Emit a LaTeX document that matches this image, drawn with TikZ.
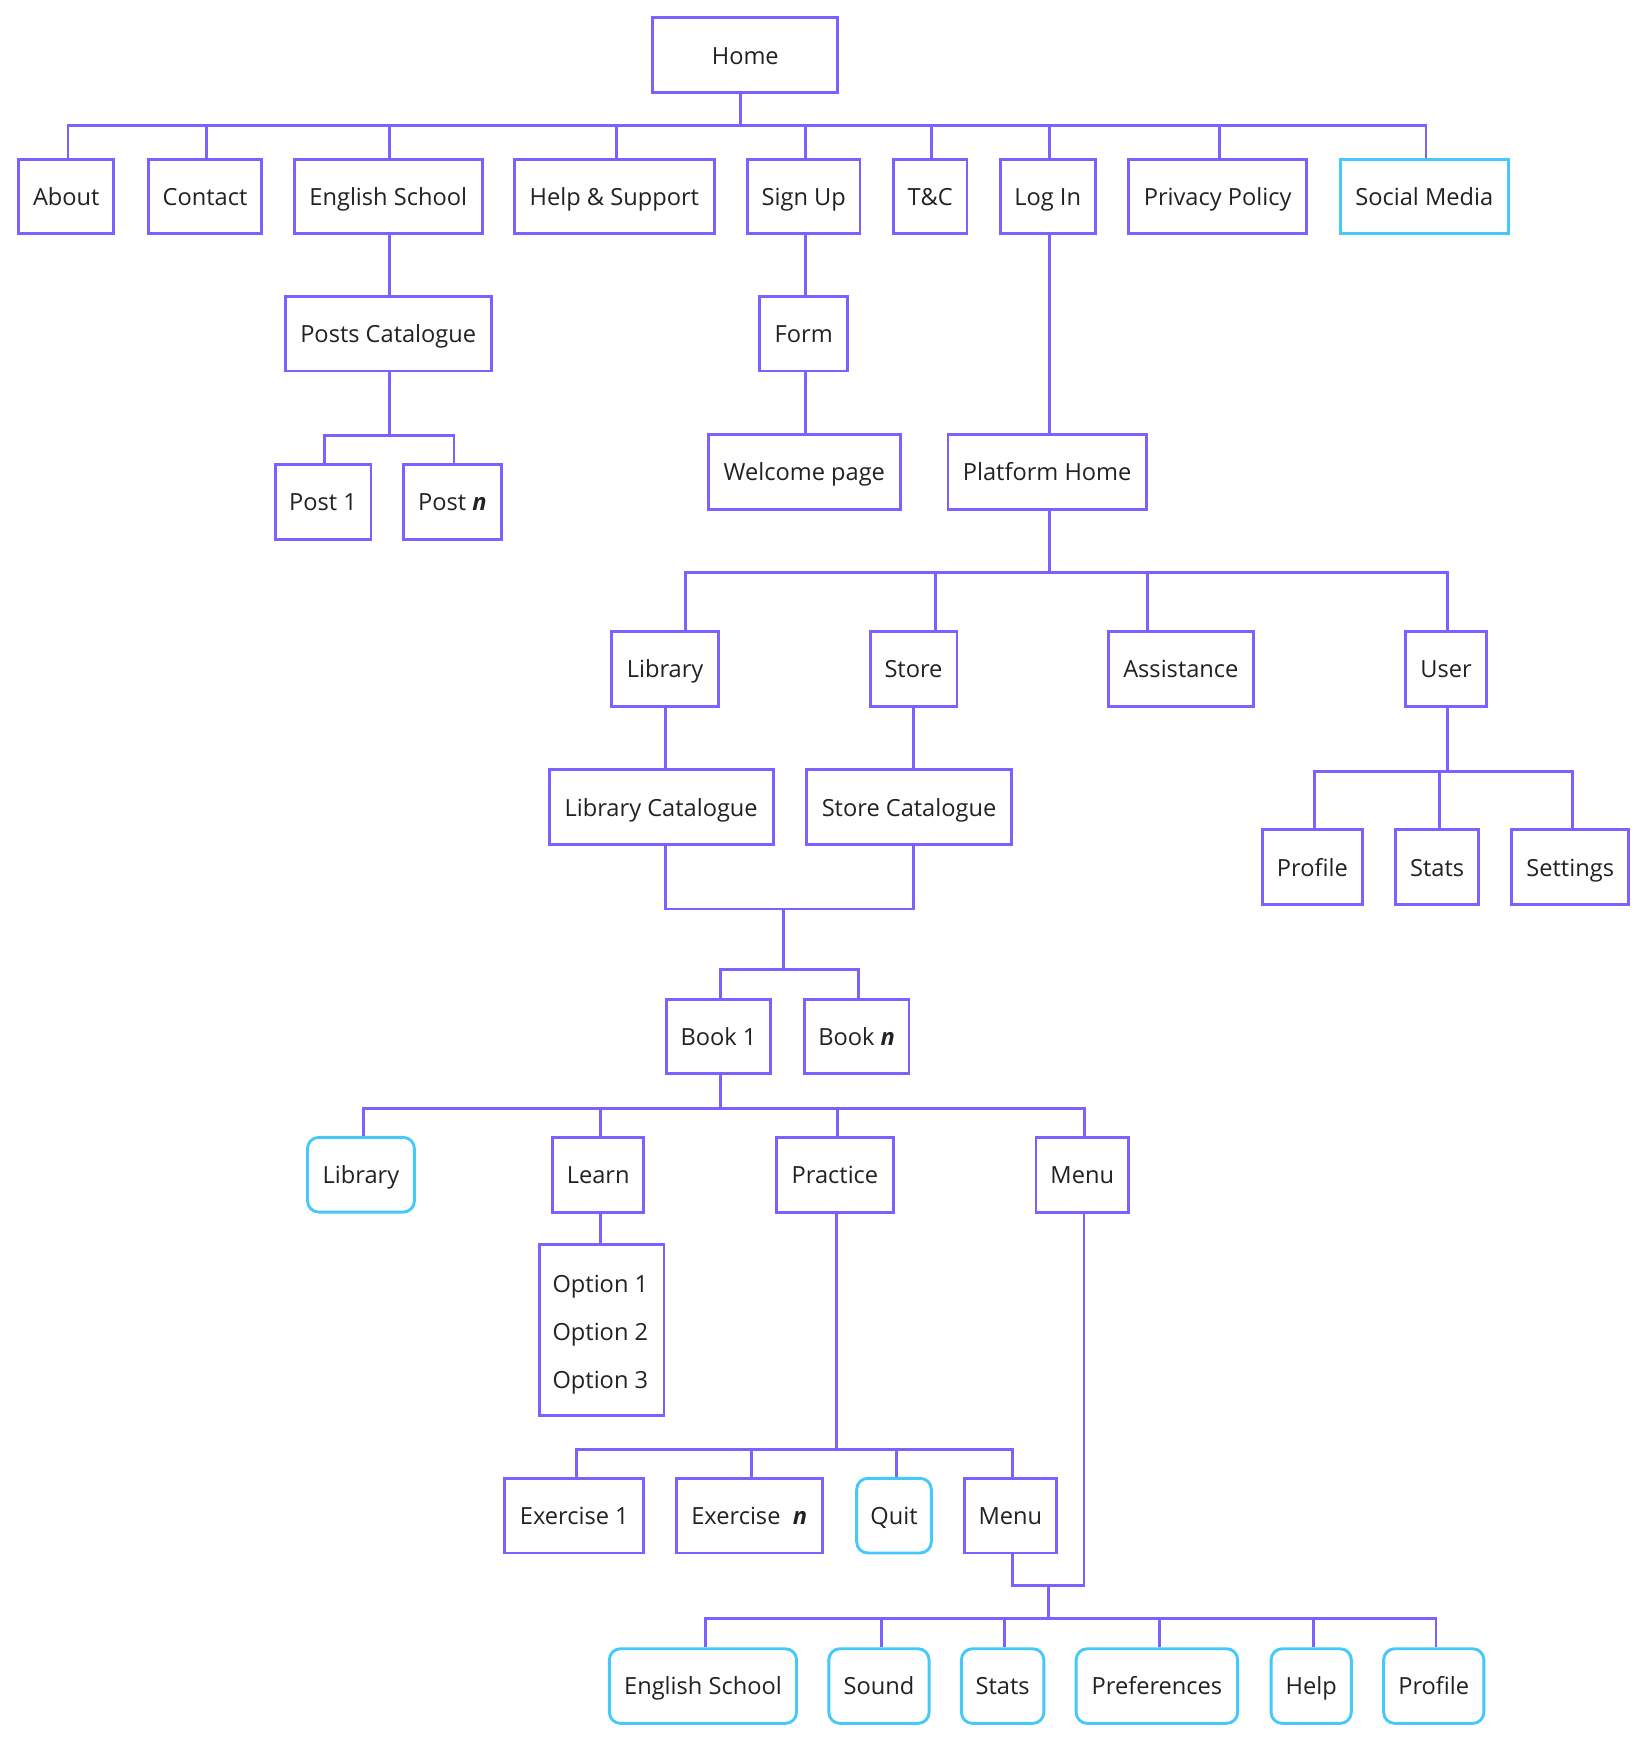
\documentclass[tikz,border=0pt]{standalone}
\usepackage{fontspec}
\setmainfont{Open Sans}
\definecolor{pur}{HTML}{7B61FF}
\definecolor{cya}{HTML}{45C8FA}
\definecolor{txt}{HTML}{222222}
\newcommand\Bx[7][]{%
  \pgfmathsetmacro\BxW{#5-#3}\pgfmathsetmacro\BxH{#6-#4}%
  \node[box,#1,minimum width=\BxW pt,minimum height=\BxH pt] (#2) at ({(#3+#5)/2},{(#4+#6)/2}) {#7};}
\begin{document}
\begin{tikzpicture}[x=1pt,y=-1pt,
  box/.style={draw=pur,line width=2.6pt,inner sep=0pt,text=txt,
    font=\fontsize{21.2}{26}\selectfont,text height=20pt,text depth=4pt},
  cbox/.style={draw=cya,rounded corners=10pt},
  sbox/.style={draw=cya},
  options/.style={text height=20pt,text depth=88pt},
  conn/.style={draw=pur,line width=2.6pt}]
\fill[white] (0,0) rectangle (1478,1570);
\useasboundingbox (0,0) rectangle (1478,1570);
% nodes
\Bx{home}{586}{16}{752}{83}{Home}
\Bx{about}{17}{143}{102}{210}{About}
\Bx{contact}{133}{143}{235}{210}{Contact}
\Bx{eng}{264}{143}{433}{210}{English School}
\Bx{help}{462}{143}{641}{210}{Help \& Support}
\Bx{signup}{671}{143}{772}{210}{Sign Up}
\Bx{tc}{802}{143}{868}{210}{T\&C}
\Bx{login}{898}{143}{983}{210}{Log In}
\Bx{privacy}{1013}{143}{1173}{210}{Privacy Policy}
\Bx[sbox]{social}{1203}{143}{1354}{210}{Social Media}
\Bx{posts}{256}{266}{441}{333}{Posts Catalogue}
\Bx{form}{682}{266}{761}{333}{Form}
\Bx{post1}{247}{417}{333}{484}{Post 1}
\Bx{postn}{362}{417}{450}{484}{Post \textbf{\textit{n}}}
\Bx{welcome}{636}{390}{808}{457}{Welcome page}
\Bx{plat}{851}{390}{1029}{457}{Platform Home}
\Bx{lib}{549}{567}{645}{634}{Library}
\Bx{store}{781}{567}{859}{634}{Store}
\Bx{assist}{995}{567}{1125}{634}{Assistance}
\Bx{user}{1262}{567}{1334}{634}{User}
\Bx{libcat}{493}{691}{694}{758}{Library Catalogue}
\Bx{storecat}{724}{691}{908}{758}{Store Catalogue}
\Bx{uprof}{1133}{745}{1223}{812}{Profile}
\Bx{ustats}{1253}{745}{1327}{812}{Stats}
\Bx{uset}{1357}{745}{1462}{812}{Settings}
\Bx{book1}{598}{897}{692}{964}{Book 1}
\Bx{bookn}{722}{897}{816}{964}{Book \textbf{\textit{n}}}
\Bx[cbox]{blib}{276}{1021}{372}{1088}{Library}
\Bx{learn}{496}{1021}{578}{1088}{Learn}
\Bx{practice}{697}{1021}{802}{1088}{Practice}
\Bx{menua}{930}{1021}{1013}{1088}{Menu}
\Bx[options]{opts}{484}{1117}{596}{1271}{\parbox[t]{88pt}{\fontsize{21.2}{43}\selectfont Option 1\\Option 2\\Option 3}}
\Bx{ex1}{453}{1327}{578}{1394}{Exercise 1}
\Bx{exn}{607}{1327}{738}{1394}{Exercise\ \ \textbf{\textit{n}}}
\Bx[cbox]{quit}{769}{1327}{836}{1394}{Quit}
\Bx{menub}{866}{1327}{948}{1394}{Menu}
\Bx[cbox]{mes}{547}{1480}{715}{1547}{English School}
\Bx[cbox]{msound}{744}{1480}{834}{1547}{Sound}
\Bx[cbox]{mstats}{863}{1480}{937}{1547}{Stats}
\Bx[cbox]{mpref}{966}{1480}{1111}{1547}{Preferences}
\Bx[cbox]{mhelp}{1141}{1480}{1213}{1547}{Help}
\Bx[cbox]{mprof}{1242}{1480}{1332}{1547}{Profile}
% connectors
\foreach \c in {about,contact,eng,help,signup,tc,login,privacy,social}
  \draw[conn] ([xshift=-4pt]home.south) -- ++(0,28) -| ([xshift=1.5pt]\c.north);
\draw[conn] ([xshift=1.5pt]eng.south) -- ([xshift=1.5pt]posts.north);
\foreach \c in {post1,postn}
  \draw[conn] ([xshift=1.5pt]posts.south) -- ++(0,57) -| ([xshift=1.5pt]\c.north);
\draw[conn] ([xshift=1.5pt]signup.south) -- ([xshift=1.5pt]form.north);
\draw[conn] ([xshift=1.5pt]form.south) -- ([xshift=1.5pt]form.south |- welcome.north);
\draw[conn] ([xshift=1.5pt]login.south) -- ([xshift=2pt]plat.north);
\draw[conn] ([xshift=2pt]plat.south) -- ++(0,56) -| ([xshift=18pt]lib.north);
\draw[conn] ([xshift=2pt]plat.south) -- ++(0,56) -| ([xshift=20pt]store.north);
\draw[conn] ([xshift=2pt]plat.south) -- ++(0,56) -| ([xshift=-30pt]assist.north);
\draw[conn] ([xshift=2pt]plat.south) -- ++(0,56) -| ([xshift=1pt]user.north);
\draw[conn] (lib.south) -- (lib.south |- libcat.north);
\draw[conn] (store.south) -- (store.south |- storecat.north);
\coordinate (m1) at (703,816);
\draw[conn] (lib.south |- libcat.south) |- (m1);
\draw[conn] (store.south |- storecat.south) |- (m1);
\foreach \c in {book1,bookn}
  \draw[conn] (m1) -- ++(0,54) -| ([xshift=1.5pt]\c.north);
\foreach \c in {uprof,ustats,uset}
  \draw[conn] ([xshift=1pt]user.south) -- ++(0,57) -| ([xshift=2pt]\c.north);
\foreach \c in {blib,learn,practice,menua}
  \draw[conn] ([xshift=1.5pt]book1.south) -- ++(0,30) -| ([xshift=2pt]\c.north);
\draw[conn] ([xshift=2pt]learn.south) -- ([xshift=2pt]learn.south |- opts.north);
\foreach \c in {ex1,exn,quit,menub}
  \draw[conn] ([xshift=1.5pt]practice.south) -- ++(0,212) -| ([xshift=2pt]\c.north);
\coordinate (m2) at (941,1423);
\draw[conn] ([xshift=1.5pt]menua.south) |- (m2);
\draw[conn] ([xshift=2pt]menub.south) |- (m2);
\foreach \c in {mes,msound,mstats,mpref,mhelp,mprof}
  \draw[conn] (m2) -- ++(0,30) -| ([xshift=2pt]\c.north);
\end{tikzpicture}
\end{document}
